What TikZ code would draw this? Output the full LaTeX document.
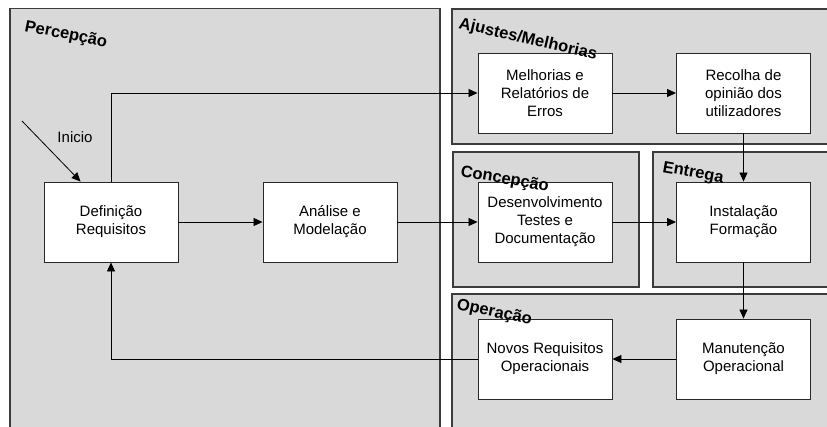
\documentclass[tikz,border=0pt]{standalone}
\usepackage{fontspec}
\setmainfont{Liberation Sans}
\usetikzlibrary{arrows.meta,calc}
\definecolor{areafill}{RGB}{217,217,217}
\definecolor{areaedge}{RGB}{60,60,60}
\definecolor{boxedge}{RGB}{40,40,40}
\begin{document}
\begin{tikzpicture}[x=1pt,y=-1pt,
  area/.style={draw=areaedge,fill=areafill,line width=1.1pt},
  stepbox/.style={draw=boxedge,fill=white,line width=0.9pt,minimum width=134pt,
    minimum height=80pt,inner sep=0pt,align=center,
    font=\fontsize{15}{18}\selectfont},
  arealabel/.style={anchor=base west,inner sep=0pt,
    font=\fontsize{16.5}{18}\selectfont\bfseries},
  flow/.style={draw=black,line width=0.8pt,-{Triangle[length=9pt,width=8pt]}},
  line/.style={draw=black,line width=0.8pt}]
\useasboundingbox (0,0) rectangle (827,426);
\clip (0,0) rectangle (827,426);
% phase areas
\path[area] (10,8.5) rectangle (440,440);
\path[area] (452,9) rectangle (845,144);
\path[area] (453,152) rectangle (639,287);
\path[area] (653,152) rectangle (845,287);
\path[area] (452,294) rectangle (845,440);
% process steps
\node[stepbox] (def) at (111,222) {Definição\\Requisitos};
\node[stepbox] (ana) at (330,222) {Análise e\\Modelação};
\node[stepbox] (mel) at (545,93) {Melhorias e\\Relatórios de\\Erros};
\node[stepbox] (rec) at (743.5,93) {Recolha de\\opinião dos\\utilizadores};
\node[stepbox] (des) at (545,222) {Desenvolvimento\\Testes e\\Documentação};
\node[stepbox] (ins) at (743.5,222) {Instalação\\Formação};
\node[stepbox] (nov) at (545,359) {Novos Requisitos\\Operacionais};
\node[stepbox] (man) at (743.5,359) {Manutenção\\Operacional};
% start arrow
\coordinate (start) at (22,121);
\node[font=\fontsize{15}{18}\selectfont,inner sep=0pt] (ini) at (75,137) {Inicio};
\draw[flow] (start) -- ($(def.north west)+(37,0)$);
% connectors
\draw[flow] (def.east) -- (ana.west);
\draw[flow] (ana.east) -- (des.west);
\draw[flow] (des.east) -- (ins.west);
\draw[flow] (def.north) |- (mel.west);
\draw[flow] (mel.east) -- (rec.west);
\draw[flow] (rec.south) -- (ins.north);
\draw[flow] (ins.south) -- (man.north);
\draw[flow] (man.west) -- (nov.east);
\draw[flow] (nov.west) -| (def.south);
% phase titles
\node[arealabel,rotate=-11] (tper) at (24,31) {Percepção};
\node[arealabel,rotate=-13] (taju) at (458,28) {Ajustes/Melhorias};
\node[arealabel,rotate=-10] (tcon) at (460,176) {Concepção};
\node[arealabel,rotate=-10] (tent) at (662,172) {Entrega};
\node[arealabel,rotate=-12] (tope) at (456,309) {Operação};
\end{tikzpicture}
\end{document}
